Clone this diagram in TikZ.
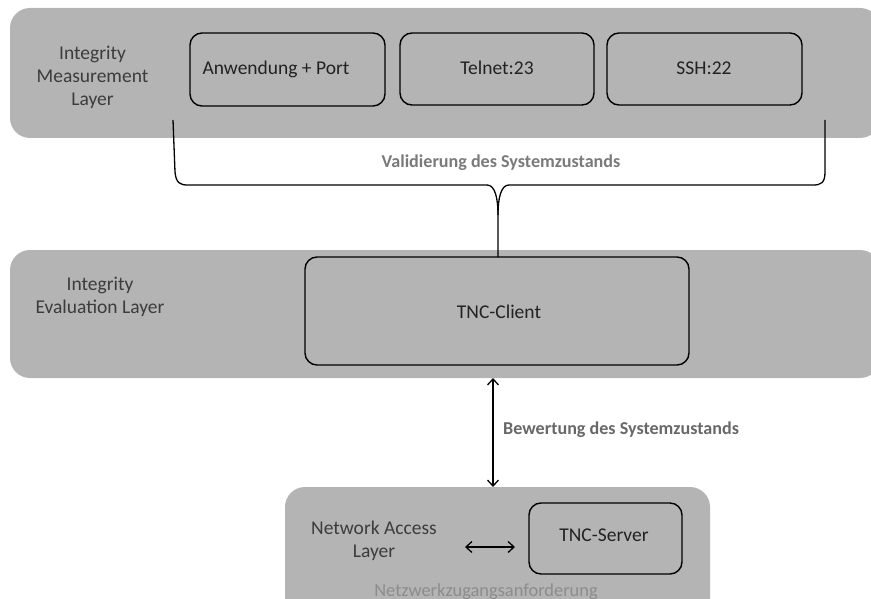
\documentclass[tikz,border=0pt]{standalone}
\usepackage{fontspec}
\setmainfont{Carlito}
\usetikzlibrary{arrows.meta}
\definecolor{layergray}{HTML}{B4B4B4}
\definecolor{labeltext}{HTML}{3C3C3C}
\definecolor{boxtext}{HTML}{222222}
\definecolor{notegray}{HTML}{7A7A7A}
\definecolor{notelight}{HTML}{8C8C8C}
\tikzset{
  layer/.style={fill=layergray, draw=none, rounded corners=20pt},
  compbox/.style={draw=black, line width=1.4pt, rounded corners=12pt, fill=none},
  layerlabel/.style={text=labeltext, align=center, font=\fontsize{19.5}{23}\selectfont, inner sep=0pt},
  comptext/.style={text=boxtext, font=\fontsize{19.5}{24}\selectfont, inner sep=0pt, anchor=base},
  note/.style={text=notegray, font=\bfseries\fontsize{18.1}{22}\selectfont, inner sep=0pt, anchor=base},
  link/.style={line width=1.3pt, {Straight Barb[length=6pt,width=11pt]}-{Straight Barb[length=6pt,width=11pt]}},
  bracket/.style={line width=1.3pt}
}
\begin{document}
\begin{tikzpicture}[x=1pt,y=-1pt]
\useasboundingbox (0,0) rectangle (871,599);
\clip (0,0) rectangle (871,599);

% layers
\path[layer] (10,8) rectangle (880,138);
\path[layer] (10,250) rectangle (880,378);
\path[layer] (285,487) rectangle (710,625);

% layer labels
\node[layerlabel] (iml) at (92.5,77) {Integrity\\Measurement\\Layer};
\node[layerlabel] (iel) at (100,297) {Integrity\\Evaluation Layer};
\node[layerlabel] (nal) at (374,541) {Network Access\\Layer};

% components
\draw[compbox] (190,33) rectangle (385,106);
\draw[compbox] (400,33) rectangle (594,105);
\draw[compbox] (607,33) rectangle (802,105);
\draw[compbox] (305,257) rectangle (689,365);
\draw[compbox] (529,503) rectangle (682,574);
\coordinate (client-s) at (493,378);
\coordinate (nal-n) at (493,487);
\coordinate (server-w) at (515,547);
\coordinate (nal-e) at (465,547);

\node[comptext] (app) at (276,75) {Anwendung + Port};
\node[comptext] (telnet) at (497,75) {Telnet:23};
\node[comptext] (ssh) at (704,75) {SSH:22};
\node[comptext] (client) at (499,318) {TNC-Client};
\node[comptext] (server) at (604,541) {TNC-Server};

% bracket gathering the measurement components
\coordinate (bl) at (173,120);
\coordinate (br) at (825,120);
\coordinate (tip) at (498,215);
\coordinate (client-n) at (498,257);
\draw[bracket] (bl) -- (175,172) .. controls (176,183) and (180,185) .. (188,185)
  -- (487,185) .. controls (495,185) and (498,198) .. (tip) -- (client-n);
\draw[bracket] (br) -- (825,172) .. controls (825,183) and (821,185) .. (813,185)
  -- (509,185) .. controls (501,185) and (498,198) .. (tip);

% notes
\node[note] (valid) at (501,168) {Validierung des Systemzustands};
\node[note, anchor=base west, text=notegray!85!black] (bew) at (503,434) {Bewertung des Systemzustands};
\node[text=notelight, font=\fontsize{18.4}{22}\selectfont, inner sep=0pt, anchor=base] (req) at (486,596) {Netzwerkzugangsanforderung};

% connections
\draw[link] (client-s) -- (nal-n);
\draw[link] (nal-e) -- (server-w);
\end{tikzpicture}
\end{document}
